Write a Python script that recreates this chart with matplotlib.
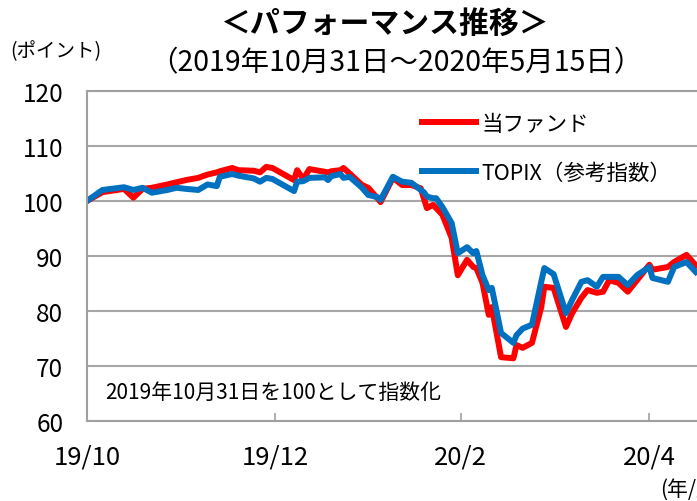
import matplotlib
matplotlib.use("Agg")
import matplotlib.pyplot as plt
import pandas as pd

plt.rcParams['font.family'] = ['Noto Sans CJK JP', 'DejaVu Sans']

# days after 2019-10-31 and index values
days = [0, 5, 12, 15, 18, 21, 26, 29, 32, 36, 39, 42, 43, 47, 49, 54, 56, 58, 60,
        67, 68, 70, 72, 77, 78, 79, 82, 83, 85, 89, 91, 94, 95, 99, 102, 105, 108,
        109, 110, 112, 113, 115, 118, 120, 123, 125, 126, 128, 130, 131, 134, 138,
        139, 141, 144, 147, 148, 151, 155, 157, 160, 162, 165, 167, 169, 172, 175,
        178, 182, 183, 188, 190, 194, 197]
fund = [100, 101.6, 102.2, 100.6, 102.2, 102.4, 103.0, 103.4, 103.8, 104.2, 104.8,
        105.2, 105.4, 106.0, 105.6, 105.5, 105.2, 106.2, 106.0,
        103.8, 105.6, 104.0, 105.8, 105.3, 105.2, 105.4, 105.6, 106.0, 105.0, 102.9,
        102.4, 100.5, 99.8, 104.2, 102.9, 102.9, 102.3,
        100.5, 98.7, 99.3, 98.7, 97.5, 93.3, 86.5, 89.3, 88.0, 87.8, 85.1, 79.3, 80.7,
        71.6, 71.4, 73.8, 73.3, 74.2, 80.7, 84.4, 84.2, 77.1, 79.6, 82.4, 83.8, 83.3,
        83.5, 85.6, 85.1, 83.5, 85.6, 88.4, 87.5, 88.0, 88.9, 90.2, 88.3]
topix = [100, 102.0, 102.5, 102.0, 102.4, 101.5, 102.0, 102.4, 102.2, 102.0, 103.0,
         102.7, 104.4, 104.9, 104.6, 104.1, 103.5, 104.2, 104.0,
         101.8, 103.5, 103.6, 104.2, 104.3, 103.8, 104.5, 104.9, 104.2, 104.4, 102.4,
         101.1, 100.7, 100.2, 104.4, 103.5, 103.3, 102.0,
         101.6, 100.8, 100.5, 100.5, 98.9, 96.0, 90.5, 91.6, 90.5, 90.9, 86.5, 83.8,
         84.2, 76.0, 74.2, 75.6, 76.8, 77.5, 85.3, 87.8, 86.7, 79.6, 82.0, 85.3, 85.6,
         84.4, 86.2, 86.2, 86.2, 84.7, 86.5, 88.0, 86.0, 85.3, 88.0, 88.9, 87.1]

start = pd.Timestamp('2019-10-31')
dates = start + pd.to_timedelta(days, unit='D')

tick_dates = pd.to_datetime(['2019-10-31', '2019-12-31', '2020-02-29', '2020-04-30'])
tick_labels = ['19/10', '19/12', '20/2', '20/4']

fig = plt.figure(figsize=(6.97, 5.02), dpi=100)
ax = fig.add_axes([0.1248, 0.1594, 0.8867, 0.6574])

ax.plot(dates, fund, color='#FF0000', lw=4.3, label='当ファンド', solid_joinstyle='round')
ax.plot(dates, topix, color='#0070C0', lw=4.3, label='TOPIX（参考指数）', solid_joinstyle='round')

ax.set_ylim(60, 120)
ax.set_yticks(range(60, 121, 10))
ax.set_xlim(start, start + pd.Timedelta(days=200))
ax.set_xticks(tick_dates)
ax.set_xticklabels(tick_labels)
ax.grid(axis='y', color='#A6A6A6', lw=1.5)
ax.set_axisbelow(True)
for s in ['left', 'top', 'bottom']:
    ax.spines[s].set_color('#A0A0A0')
    ax.spines[s].set_linewidth(1.5)
ax.spines['right'].set_visible(False)
ax.tick_params(axis='y', length=0, labelsize=17.5, pad=17)
ax.tick_params(axis='x', direction='in', length=6, width=1.2, color='#A0A0A0',
               labelsize=18.5, pad=16)

ax.legend(loc='upper left', bbox_to_anchor=(422 / 697, 1 - 114 / 502),
          bbox_transform=fig.transFigure, frameon=False, fontsize=15.5,
          handlelength=2.5, handletextpad=0.25, labelspacing=1.25, borderpad=0,
          borderaxespad=0)

ax.text(105 / 697, 1 - 393 / 502, '2019年10月31日を100として指数化',
        transform=fig.transFigure, fontsize=15, va='center', ha='left')

fig.text(0.553, 1 - 24 / 502, '＜パフォーマンス推移＞', fontsize=21.5, fontweight='bold',
         ha='center', va='center')
fig.text(0.568, 1 - 63 / 502, '（2019年10月31日～2020年5月15日）', fontsize=20.5,
         ha='center', va='center')
fig.text(10 / 697, 1 - 52 / 502, '(ポイント)', fontsize=14, ha='left', va='center')
fig.text(660 / 697, 1 - 490 / 502, '(年/月)', fontsize=15, ha='left', va='center')

fig.savefig('out.png', dpi=100)
